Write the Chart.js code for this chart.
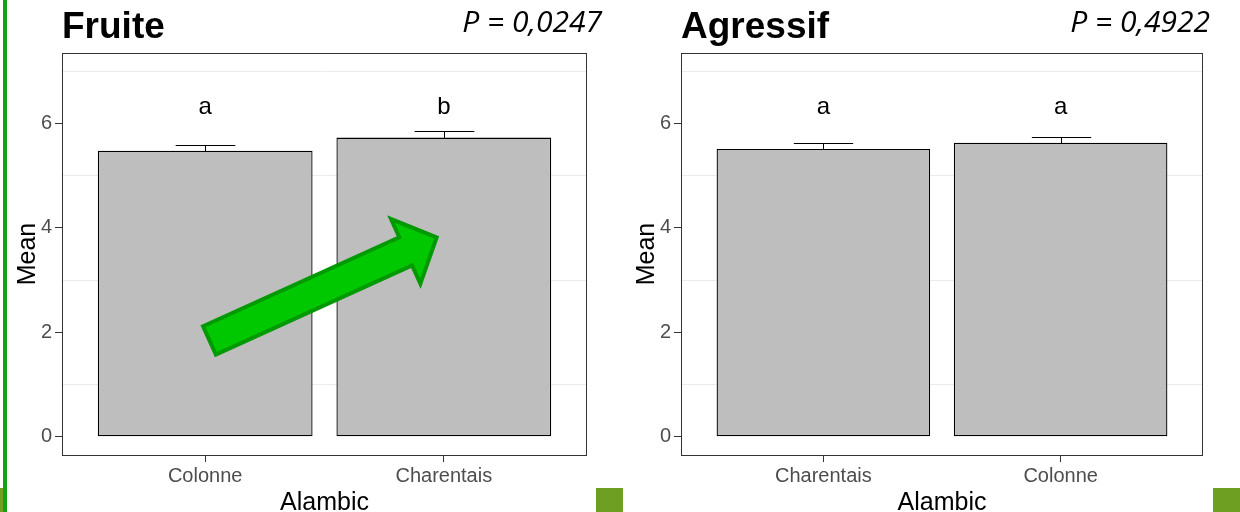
<!DOCTYPE html>
<html>
<head>
<meta charset="utf-8">
<script src="https://cdn.jsdelivr.net/npm/chart.js@4.4.1/dist/chart.umd.min.js"></script>
<style>
  body { margin: 0; background: #fff; width: 1240px; height: 512px; overflow: hidden; position: relative; }
  .panel { position: absolute; top: 0; width: 620px; height: 512px; }
  .deco { position: absolute; }
</style>
</head>
<body>
<div class="panel" style="left:0"><canvas id="fruite" width="620" height="512"></canvas></div>
<div class="panel" style="left:619px"><canvas id="agressif" width="620" height="512"></canvas></div>
<div class="deco" style="left:3px;top:0;width:4px;height:512px;background:#15a015"></div>
<div class="deco" style="left:0;top:488px;width:3px;height:24px;background:#6f9f22"></div>
<div class="deco" style="left:596px;top:488px;width:27px;height:24px;background:#6f9f22"></div>
<div class="deco" style="left:1213px;top:488px;width:27px;height:24px;background:#6f9f22"></div>
<script>
// data
const fruiteCategories = ["Colonne", "Charentais"];
const fruiteMeans = [5.48, 5.73];
const fruiteSe = [0.11, 0.12];
const fruiteLetters = ["a", "b"];
const fruiteP = "P = 0,0247";

const agressifCategories = ["Charentais", "Colonne"];
const agressifMeans = [5.51, 5.63];
const agressifSe = [0.11, 0.12];
const agressifLetters = ["a", "a"];
const agressifP = "P = 0,4922";

const yTicks = [0, 1, 2, 3, 4, 5, 6, 7];

const FONT = "'Liberation Sans', Arial, sans-serif";

// titles, error bars, letters, panel border, arrow
const panelPlugin = {
  id: "panel",
  afterDatasetsDraw(chart, args, opts) {
    const { ctx, scales: { x, y } } = chart;
    const unit = x.getPixelForValue(2) - x.getPixelForValue(1);
    ctx.save();
    ctx.strokeStyle = "#000";
    ctx.lineWidth = 1;
    opts.means.forEach((m, i) => {
      const cx = Math.round(x.getPixelForValue(i + 1)) + 0.5;
      const y0 = Math.round(y.getPixelForValue(m)) + 0.5;
      const y1 = Math.round(y.getPixelForValue(m + opts.se[i])) + 0.5;
      const hw = unit * 0.125;
      ctx.beginPath();
      ctx.moveTo(cx, y0); ctx.lineTo(cx, y1);
      ctx.moveTo(cx - hw, y1); ctx.lineTo(cx + hw, y1);
      ctx.moveTo(cx - hw, y0); ctx.lineTo(cx + hw, y0);
      ctx.stroke();
    });
    ctx.fillStyle = "#000";
    ctx.font = "24px " + FONT;
    ctx.textAlign = "center";
    ctx.textBaseline = "middle";
    opts.letters.forEach((l, i) => {
      ctx.fillText(l, x.getPixelForValue(i + 1), y.getPixelForValue(opts.letterY));
    });

    if (opts.arrow) {
      const ar = opts.arrow;
      const tx = x.getPixelForValue(ar.from[0]), ty = y.getPixelForValue(ar.from[1]);
      const px = x.getPixelForValue(ar.to[0]), py = y.getPixelForValue(ar.to[1]);
      const len = Math.hypot(px - tx, py - ty);
      const ux = (px - tx) / len, uy = (py - ty) / len;
      const nx = -uy, ny = ux;
      const b = len - ar.headLen;
      const pt = (al, pe) => [tx + ux * al + nx * pe, ty + uy * al + ny * pe];
      const poly = [pt(0, -ar.shaft), pt(b, -ar.shaft), pt(b, -ar.head), pt(len, 0),
                    pt(b, ar.head), pt(b, ar.shaft), pt(0, ar.shaft)];
      ctx.beginPath();
      poly.forEach((p, k) => k ? ctx.lineTo(p[0], p[1]) : ctx.moveTo(p[0], p[1]));
      ctx.closePath();
      ctx.fillStyle = "#00c800";
      ctx.fill();
      ctx.lineJoin = "miter";
      ctx.lineWidth = 4;
      ctx.strokeStyle = "#009a00";
      ctx.stroke();
    }
    ctx.restore();
  },
  afterDraw(chart, args, opts) {
    const { ctx, chartArea: a } = chart;
    ctx.save();
    ctx.strokeStyle = "#333";
    ctx.lineWidth = 1;
    ctx.strokeRect(Math.round(a.left) + 0.5, Math.round(a.top) + 0.5,
                   Math.round(a.right - a.left) - 1, Math.round(a.bottom - a.top));
    ctx.fillStyle = "#000";
    ctx.textBaseline = "alphabetic";
    ctx.textAlign = "left";
    ctx.font = "bold 37px " + FONT;
    ctx.fillText(opts.title, a.left, 38);
    ctx.textAlign = "right";
    ctx.font = "italic 30px 'Open Sans', sans-serif";
    ctx.fillText(opts.p, opts.pRight, 32);
    ctx.restore();
  }
};

function makeChart(id, cats, means, se, letters, title, p, extra) {
  return new Chart(document.getElementById(id), {
    type: "bar",
    data: {
      datasets: [{
        data: means.map((m, i) => ({ x: i + 1, y: m })),
        backgroundColor: "#bebebe",
        borderColor: "#000",
        borderWidth: 1.3,
        borderSkipped: false,
        barPercentage: 0.9,
        categoryPercentage: 1
      }]
    },
    options: {
      responsive: false,
      animation: false,
      devicePixelRatio: 1,
      layout: { padding: { top: 53, right: extra.right, left: 0, bottom: 0 } },
      plugins: {
        legend: { display: false },
        tooltip: { enabled: false },
        panel: { means, se, letters, title, p, pRight: extra.pRight, letterY: 6.3, arrow: extra.arrow }
      },
      scales: {
        x: {
          type: "linear",
          offset: false,
          min: 0.4,
          max: 2.6,
          afterBuildTicks: s => { s.ticks = cats.map((c, i) => ({ value: i + 1 })); },
          afterFit: s => { s.height = 57; },
          ticks: {
            callback: v => cats[v - 1],
            color: "#4d4d4d",
            font: { family: FONT, size: 20 },
            padding: 2,
            maxRotation: 0,
            autoSkip: false
          },
          grid: { offset: false, drawOnChartArea: false, tickLength: 7, tickColor: "#333" },
          border: { display: false },
          title: { display: true, text: "Alambic", color: "#000", font: { family: FONT, size: 25, lineHeight: 0.72 }, padding: 0 }
        },
        y: {
          min: -0.35,
          max: 7.35,
          afterBuildTicks: s => { s.ticks = yTicks.map(v => ({ value: v })); },
          afterFit: s => { s.width = 62; },
          ticks: {
            callback: v => (v % 2 === 0 ? v : ""),
            color: "#4d4d4d",
            font: { family: FONT, size: 20 },
            padding: 3
          },
          grid: {
            color: c => (c.tick && c.tick.value % 2 === 1 ? "#ebebeb" : "rgba(0,0,0,0)"),
            tickColor: c => (c.tick && c.tick.value % 2 === 0 ? "#333" : "rgba(0,0,0,0)"),
            tickLength: 7
          },
          border: { display: false },
          title: { display: true, text: "Mean", color: "#000", font: { family: FONT, size: 25 }, padding: { top: 13, bottom: 0 } }
        }
      }
    },
    plugins: [panelPlugin]
  });
}

makeChart("fruite", fruiteCategories, fruiteMeans, fruiteSe, fruiteLetters, "Fruite", fruiteP, {
  right: 33,
  pRight: 602,
  arrow: { from: [1.018, 1.845], to: [1.97, 3.82], shaft: 15.5, head: 35.5, headLen: 34 }
});
makeChart("agressif", agressifCategories, agressifMeans, agressifSe, agressifLetters, "Agressif", agressifP, {
  right: 36,
  pRight: 591,
  arrow: null
});
</script>
</body>
</html>
